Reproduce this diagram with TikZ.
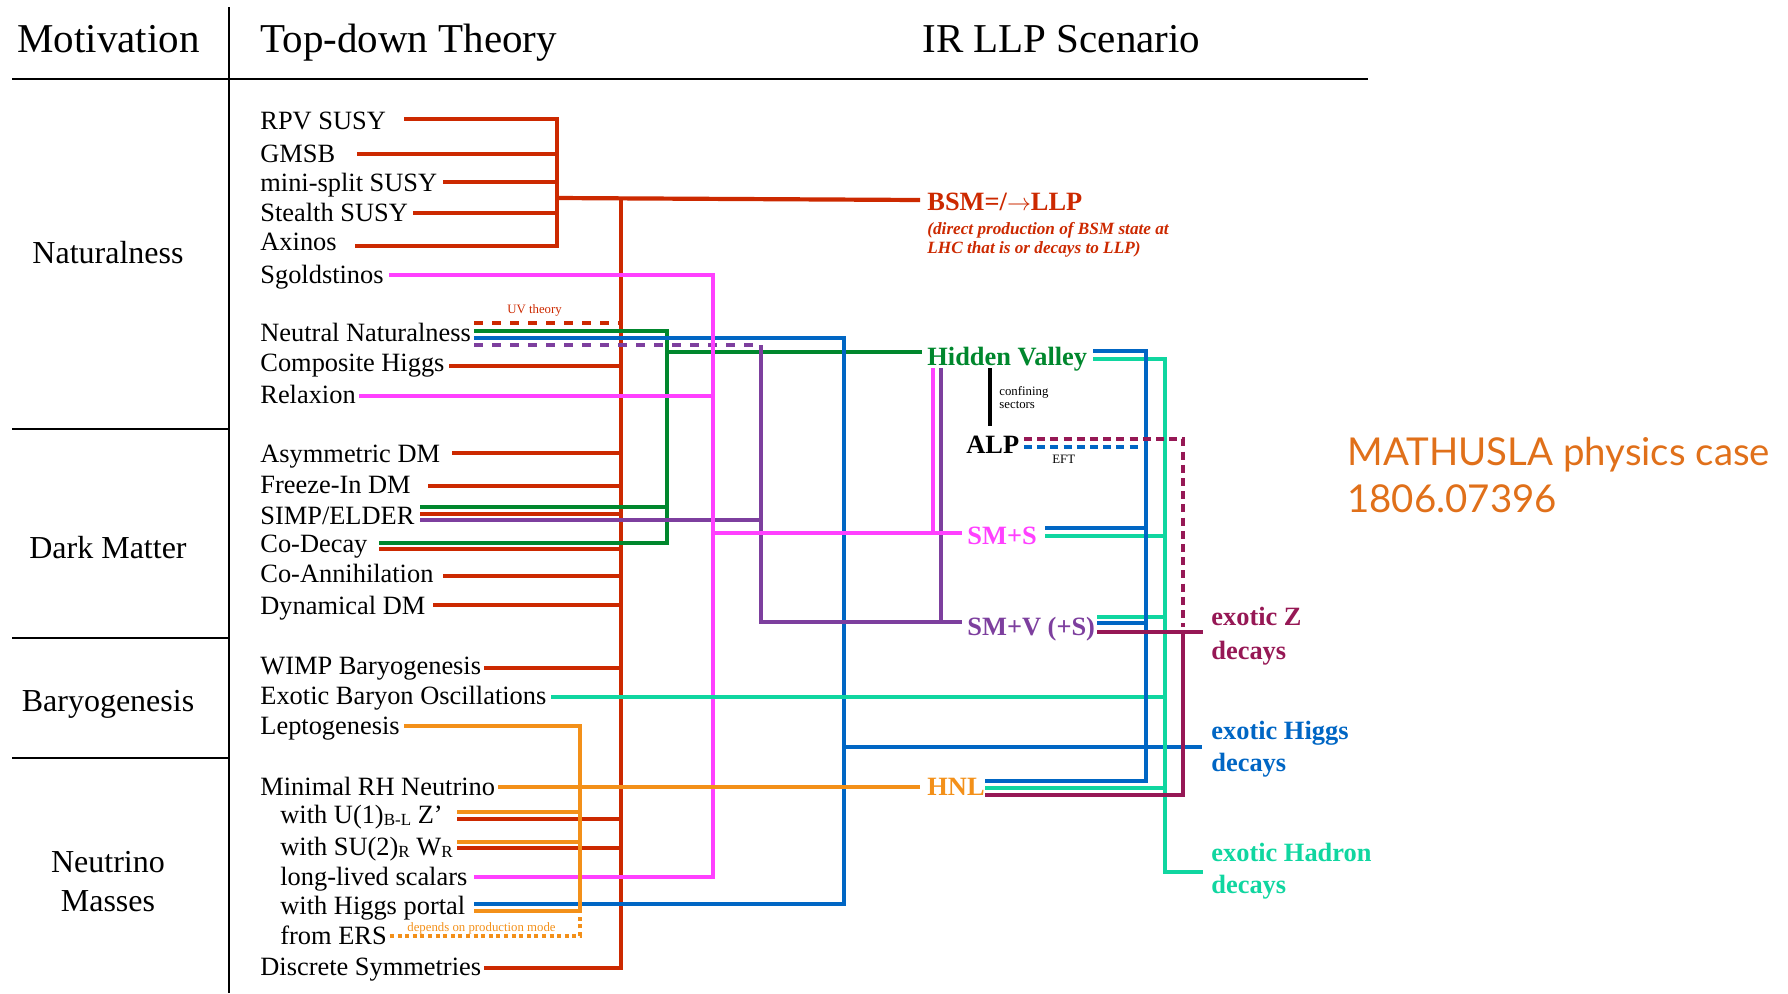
\documentclass[tikz,border=0pt]{standalone}
\usepackage{fontspec}
\setmainfont{Liberation Serif}
\newfontfamily\gillfont{Lato}
\definecolor{cRed}{RGB}{204,41,0}
\definecolor{cPink}{RGB}{255,64,255}
\definecolor{cGreen}{RGB}{0,135,45}
\definecolor{cBlue}{RGB}{0,102,196}
\definecolor{cPurple}{RGB}{125,63,158}
\definecolor{cTeal}{RGB}{16,214,160}
\definecolor{cOrange}{RGB}{243,144,25}
\definecolor{cMaroon}{RGB}{150,24,85}
\definecolor{cMath}{RGB}{224,112,26}
\newcommand\szH{\fontsize{20.5}{24}\selectfont}
\newcommand\szL{\fontsize{16}{19}\selectfont}
\newcommand\szB{\fontsize{13.2}{16}\selectfont}
\newcommand\szS{\fontsize{6.4}{7.5}\selectfont}
\newcommand\szI{\fontsize{8.6}{10}\selectfont}
\newcommand\subx[1]{\raisebox{-1.3pt}{\fontsize{8.5}{9}\selectfont #1}}
\begin{document}
\begin{tikzpicture}[x=0.5pt,y=-0.5pt,
  t/.style={inner sep=0pt,anchor=base west},
  lbl/.style={inner sep=0pt,anchor=base,font=\szL},
  item/.style={t,font=\szB},
  rt/.style={t,font=\szB\bfseries},
  ln/.style={line width=2.1pt},
  rl/.style={ln,draw=cRed},
  gl/.style={ln,draw=cGreen},
  bl/.style={ln,draw=cBlue},
  pl/.style={ln,draw=cPurple},
  kl/.style={ln,draw=cPink},
  ol/.style={ln,draw=cOrange},
  tl/.style={ln,draw=cTeal},
  ml/.style={ln,draw=cMaroon},
  longdash/.style={dash pattern=on 4.5pt off 4.5pt},
  shortdash/.style={dash pattern=on 4pt off 2.6pt},
  dotline/.style={dash pattern=on 2pt off 1.8pt},
  frame/.style={line width=1.35pt,draw=black}]
\useasboundingbox (0,0) rectangle (1788,993);

% ---------- frame ----------
\coordinate (fTL) at (12,79); \coordinate (fTR) at (1368,79);
\coordinate (vT) at (229,7); \coordinate (vB) at (229,993);
\coordinate (s1) at (12,429); \coordinate (s2) at (12,638); \coordinate (s3) at (12,758);
\draw[frame] (fTL) -- (fTR);
\draw[frame] (vT) -- (vB);
\draw[frame] (s1) -- (s1 -| vT);
\draw[frame] (s2) -- (s2 -| vT);
\draw[frame] (s3) -- (s3 -| vT);

% ---------- headers ----------
\node[t,font=\szH] (hMot) at (17,52) {Motivation};
\node[t,font=\szH] (hTop) at (260,52) {Top-down Theory};
\node[t,font=\szH] (hIR) at (922,52) {IR LLP Scenario};

% ---------- motivation labels ----------
\node[lbl] (mNat) at (108,263) {Naturalness};
\node[lbl] (mDM) at (108,558) {Dark Matter};
\node[lbl] (mBar) at (108,711) {Baryogenesis};
\node[lbl] (mNu1) at (108,872) {Neutrino};
\node[lbl] (mNu2) at (108,911) {Masses};

% ---------- theory items ----------
\node[item] (rpv) at (260,129) {RPV SUSY};
\node[item] (gmsb) at (260,162) {GMSB};
\node[item] (mini) at (260,191) {mini-split SUSY};
\node[item] (stealth) at (260,221) {Stealth SUSY};
\node[item] (axinos) at (260,250) {Axinos};
\node[item] (sgold) at (260,283) {Sgoldstinos};
\node[item] (nn) at (260,341) {Neutral Naturalness};
\node[item] (comp) at (260,371) {Composite Higgs};
\node[item] (relax) at (260,403) {Relaxion};
\node[item] (asym) at (260,462) {Asymmetric DM};
\node[item] (freeze) at (260,493) {Freeze-In DM};
\node[item] (simp) at (260,524) {SIMP/ELDER};
\node[item] (codec) at (260,552) {Co-Decay};
\node[item] (coann) at (260,582) {Co-Annihilation};
\node[item] (dyn) at (260,614) {Dynamical DM};
\node[item] (wimp) at (260,674) {WIMP Baryogenesis};
\node[item] (ebo) at (260,704) {Exotic Baryon Oscillations};
\node[item] (lepto) at (260,734) {Leptogenesis};
\node[item] (minrh) at (260,795) {Minimal RH Neutrino};
\node[item] (u1) at (280,823) {with U(1)\subx{B-L} Z’};
\node[item] (su2) at (280,855) {with SU(2)\subx{R} W\subx{R}};
\node[item] (llscal) at (280,885) {long-lived scalars};
\node[item] (hport) at (280,914) {with Higgs portal};
\node[item] (ers) at (280,944) {from ERS};
\node[item] (disc) at (260,975) {Discrete Symmetries};

\node[t,font=\szS,text=cRed] (uv) at (507,313) {UV theory};
\node[t,font=\szS,text=cOrange] (dep) at (407,931) {depends on production mode};

% ---------- IR scenarios ----------
\node[rt,text=cRed] (bsm) at (927,210) {BSM=/$\rightarrow$LLP};
\node[t,font=\szI\bfseries\itshape,text=cRed] (bsmA) at (927,234) {(direct production of BSM state at};
\node[t,font=\szI\bfseries\itshape,text=cRed] (bsmB) at (927,253) {LHC that is or decays to LLP)};
\node[rt,text=cGreen] (hv) at (927,365) {Hidden Valley};
\node[t,font=\szS] (conf1) at (999,395) {confining};
\node[t,font=\szS] (conf2) at (999,408) {sectors};
\node[rt] (alp) at (966,453) {ALP};
\node[t,font=\szS] (eft) at (1052,463) {EFT};
\node[rt,text=cPink] (sms) at (967,544) {SM+S};
\node[rt,text=cPurple] (smv) at (967,635) {SM+V (+S)};
\node[rt,text=cOrange] (hnl) at (927,795) {HNL};
\node[rt,text=cMaroon] (ezA) at (1211,625) {exotic Z};
\node[rt,text=cMaroon] (ezB) at (1211,659) {decays};
\node[rt,text=cBlue] (ehA) at (1211,739) {exotic Higgs};
\node[rt,text=cBlue] (ehB) at (1211,771) {decays};
\node[rt,text=cTeal] (edA) at (1211,861) {exotic Hadron};
\node[rt,text=cTeal] (edB) at (1211,893) {decays};

\node[t,font=\gillfont\fontsize{19.2}{23}\selectfont,text=cMath] (mat1) at (1347,465) {MATHUSLA physics case};
\node[t,font=\gillfont\fontsize{19.2}{23}\selectfont,text=cMath] (mat2) at (1347,512) {1806.07396};

% ---------- red network ----------
\coordinate (lRPV) at (404,119);
\coordinate (lGM) at (357,154);
\coordinate (lMini) at (443,182);
\coordinate (lSt) at (413,213);
\coordinate (lAx) at (355,246);
\coordinate (brkB) at (557,246);
\coordinate (brkM) at (557,198);
\coordinate (bsmIn) at (920,200);
\draw[rl] (lRPV) -| (brkB) -- (lAx);
\draw[rl] (lGM) -- (lGM -| brkB);
\draw[rl] (lMini) -- (lMini -| brkB);
\draw[rl] (lSt) -- (lSt -| brkB);
\draw[rl] (brkM) -- (bsmIn);
\coordinate (trT) at (621,198.5);
\coordinate (trB) at (621,968);
\coordinate (lDisc) at (484,968);
\draw[rl] (trT) -- (trB) -- (lDisc);
\coordinate (lNNr) at (474,323); \coordinate (eNNr) at (619,323);
\draw[rl,longdash] (lNNr) -- (eNNr);
\coordinate (lComp) at (449,366);
\coordinate (lAsym) at (452,453);
\coordinate (lFrz) at (428,486);
\coordinate (lSimpR) at (420,514);
\coordinate (lCDr) at (379,549);
\coordinate (lCoA) at (443,576);
\coordinate (lDyn) at (433,605);
\coordinate (lWimp) at (484,668);
\coordinate (lU1r) at (457,819);
\coordinate (lSU2r) at (457,848);
\foreach \c in {lComp,lAsym,lFrz,lSimpR,lCDr,lCoA,lDyn,lWimp,lU1r,lSU2r}
  \draw[rl] (\c) -- (\c -| trB);

% ---------- green ----------
\coordinate (lNNg) at (474,331);
\coordinate (gB) at (667,543);
\coordinate (lCDg) at (379,543);
\coordinate (lSimpG) at (420,507);
\coordinate (gOut) at (667,352);
\coordinate (hvIn) at (922,352);
\draw[gl] (lNNg) -| (gB) -- (lCDg);
\draw[gl] (lSimpG) -- (lSimpG -| gB);
\draw[gl] (gOut) -- (hvIn);

% ---------- blue (left) ----------
\coordinate (lNNb) at (474,338);
\coordinate (bB) at (844,904);
\coordinate (lHPb) at (474,904);
\coordinate (bH) at (844,747);
\coordinate (ehIn) at (1202,747);
\draw[bl] (lNNb) -| (bB) -- (lHPb);
\draw[bl] (bH) -- (ehIn);

% ---------- purple ----------
\coordinate (lNNp) at (474,345);
\coordinate (pT) at (761,345);
\coordinate (pB) at (761,622);
\coordinate (smvIn) at (962,622);
\coordinate (lSimpP) at (420,520);
\coordinate (hvP) at (941,368);
\coordinate (hvPb) at (941,622);
\draw[pl,longdash] (lNNp) -- (pT);
\draw[pl] (pT) -- (pB) -- (smvIn);
\draw[pl] (lSimpP) -- (lSimpP -| pB);
\draw[pl] (hvP) -- (hvPb);

% ---------- pink ----------
\coordinate (lSg) at (389,275);
\coordinate (kB) at (713,877);
\coordinate (lLL) at (474,877);
\coordinate (lRel) at (359,396);
\coordinate (kS) at (713,533);
\coordinate (smsIn) at (962,533);
\coordinate (hvK) at (933,368);
\coordinate (hvKb) at (933,533);
\draw[kl] (lSg) -| (kB) -- (lLL);
\draw[kl] (lRel) -- (lRel -| kB);
\draw[kl] (kS) -- (smsIn);
\draw[kl] (hvK) -- (hvKb);

% ---------- orange ----------
\coordinate (lLep) at (404,726);
\coordinate (oB) at (580,911);
\coordinate (lHPo) at (474,911);
\coordinate (lU1o) at (457,812);
\coordinate (lSU2o) at (457,842);
\coordinate (lERS) at (390,936);
\coordinate (lMin) at (498,787);
\coordinate (hnlIn) at (920,787);
\draw[ol] (lLep) -| (oB) -- (lHPo);
\draw[ol] (lU1o) -- (lU1o -| oB);
\draw[ol] (lSU2o) -- (lSU2o -| oB);
\draw[ol,dotline] (lERS) -| (oB);
\draw[ol] (lMin) -- (hnlIn);

% ---------- teal ----------
\coordinate (lEBO) at (551,697);
\coordinate (hvT) at (1093,359);
\coordinate (tB) at (1165,872);
\coordinate (edIn) at (1203,872);
\coordinate (smsT) at (1045,536);
\coordinate (smvT) at (1097,617);
\coordinate (hnlT) at (985,788);
\draw[tl] (lEBO) -- (lEBO -| tB);
\draw[tl] (hvT) -| (tB) -- (edIn);
\draw[tl] (smsT) -- (smsT -| tB);
\draw[tl] (smvT) -- (smvT -| tB);
\draw[tl] (hnlT) -- (hnlT -| tB);

% ---------- blue (right) ----------
\coordinate (hvB) at (1093,351);
\coordinate (rbB) at (1146,781);
\coordinate (hnlB) at (985,781);
\coordinate (smsB) at (1045,528);
\coordinate (smvB) at (1097,623);
\coordinate (alpB) at (1024,447);
\coordinate (alpBe) at (1142,447);
\draw[bl] (hvB) -| (rbB) -- (hnlB);
\draw[bl] (smsB) -- (smsB -| rbB);
\draw[bl] (smvB) -- (smvB -| rbB);
\draw[bl,shortdash] (alpB) -- (alpBe);

% ---------- maroon ----------
\coordinate (alpM) at (1024,439);
\coordinate (mD) at (1183,627);
\coordinate (smvM) at (1097,632);
\coordinate (ezIn) at (1203,632);
\coordinate (mT) at (1183,632);
\coordinate (mB) at (1183,795);
\coordinate (hnlM) at (985,795);
\draw[ml,shortdash] (alpM) -| (mD);
\draw[ml] (smvM) -- (ezIn);
\draw[ml] (mT) -- (mB) -- (hnlM);

% ---------- black ----------
\coordinate (cfT) at (990,368);
\coordinate (cfB) at (990,426);
\draw[ln,draw=black] (cfT) -- (cfB);
\end{tikzpicture}
\end{document}
